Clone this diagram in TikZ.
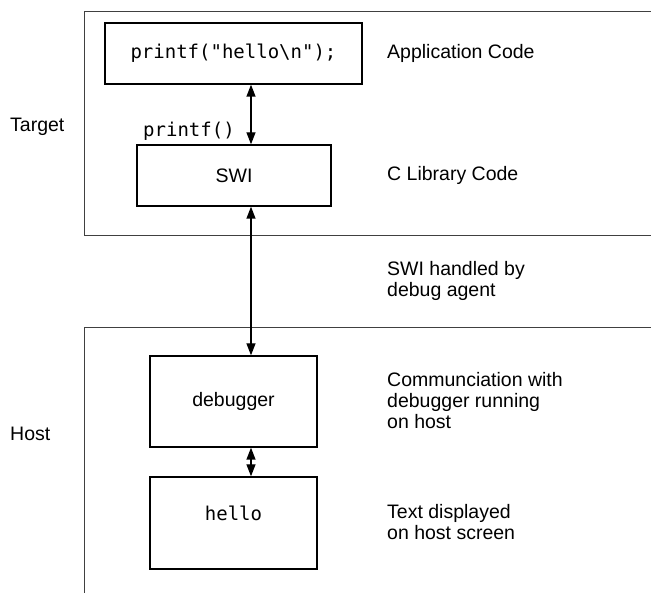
\documentclass[tikz,border=0pt]{standalone}
\usepackage{fontspec}
\setmainfont{Liberation Sans}
\newfontfamily\codefont{DejaVu Sans Mono}
\usetikzlibrary{arrows.meta}
\tikzset{
  panel/.style={draw=black!75, line width=0.9pt},
  box/.style={draw=black, line width=1.4pt, rectangle, inner sep=0pt},
  code/.style={font=\codefont\fontsize{19}{22}\selectfont, inner sep=0pt},
  txt/.style={font=\fontsize{19.5}{21}\selectfont, inner sep=0pt, align=left, anchor=west},
  link/.style={line width=1.4pt, {Triangle[length=12pt,width=9pt]}-{Triangle[length=12pt,width=9pt]}}
}
\begin{document}
\begin{tikzpicture}[x=1pt,y=-1pt]
  \useasboundingbox (0,0) rectangle (651,593);
  % target and host panels (open on the right and at the bottom)
  \draw[panel] (651,11) -- (84,11) -- (84,235) -- (651,235);
  \draw[panel] (651,327) -- (84,327) -- (84,593);
  \node[txt] (target) at (10,127) {Target};
  \node[txt] (host) at (10,434) {Host};

  % boxes
  \node[box, minimum width=257pt, minimum height=61pt] (app) at (233.5,53.5)
    {\codefont\fontsize{19}{22}\selectfont printf("hello\textbackslash n");};
  \node[box, minimum width=194pt, minimum height=61pt] (swi) at (234,175.5)
    {\fontsize{19.5}{21}\selectfont SWI};
  \node[box, minimum width=167pt, minimum height=91pt] (dbg) at (233.5,401.5)
    {\fontsize{19.5}{21}\selectfont debugger};
  \node[box, minimum width=167pt, minimum height=92pt] (hello) at (233.5,523) {};
  \node[code] (hellotext) at (233.5,513) {hello};
  \node[code] (call) at (189,131) {printf()};

  % connectors
  \coordinate (ax) at (251,0);
  \draw[link] (app.south -| ax) -- (swi.north -| ax);
  \draw[link] (swi.south -| ax) -- (dbg.north -| ax);
  \draw[link] (dbg.south -| ax) -- (hello.north -| ax);

  % descriptions
  \node[txt] (d1) at (387,53) {Application Code};
  \node[txt] (d2) at (387,175) {C Library Code};
  \node[txt] (d3) at (387,281) {SWI handled by\\debug agent};
  \node[txt] (d4) at (387,400.5) {Communciation with\\debugger running\\on host};
  \node[txt] (d5) at (387,522) {Text displayed\\on host screen};
\end{tikzpicture}
\end{document}
